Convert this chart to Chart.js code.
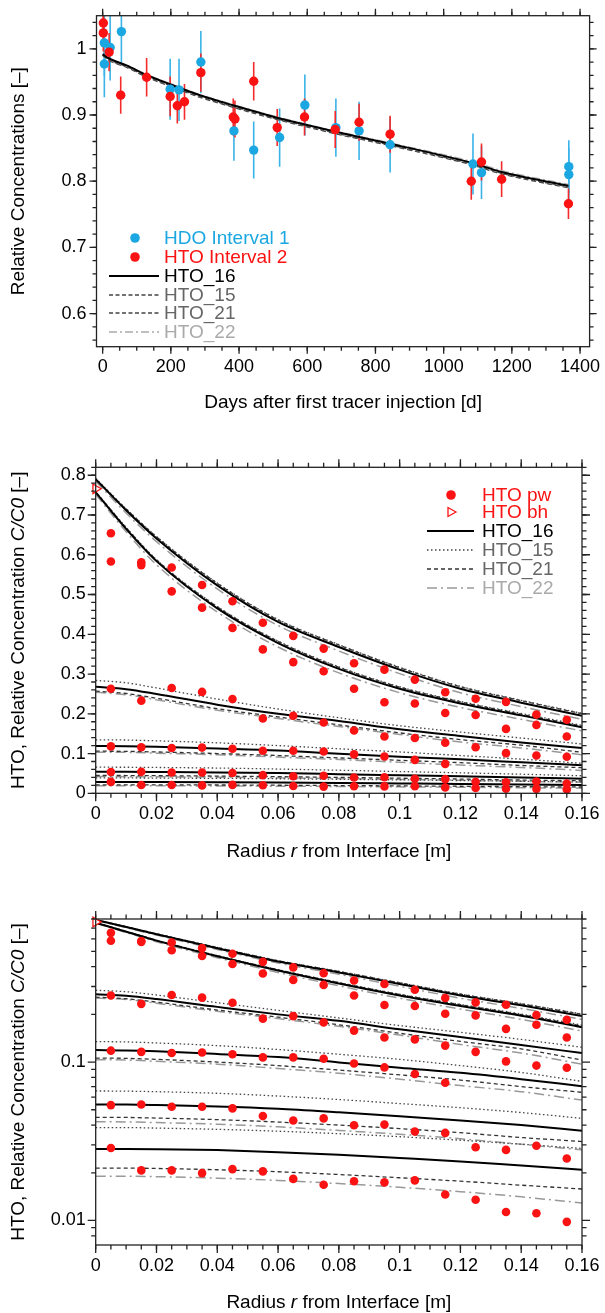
<!DOCTYPE html>
<html>
<head>
<meta charset="utf-8">
<script src="https://cdn.jsdelivr.net/npm/chart.js@4.4.1/dist/chart.umd.min.js"></script>
<style>
html, body { margin: 0; padding: 0; background: #fff; }
#wrap { position: relative; width: 605px; height: 1313px; overflow: hidden; }
canvas { position: absolute; left: 0; }
</style>
</head>
<body>
<div id="wrap">
<canvas id="zeit" width="605" height="420" style="top:0px"></canvas>
<canvas id="profilLin" width="605" height="450" style="top:420px"></canvas>
<canvas id="profilLog" width="605" height="443" style="top:870px"></canvas>
</div>
<script>
// ---------- Panel 1: relative concentrations over time ----------
const hdoDays   = [5, 5, 22, 55, 198, 224, 288, 385, 443, 519, 593, 684, 752, 843, 1086, 1111, 1367, 1367];
const hdoValues = [1.009, 0.977, 1.002, 1.026, 0.939, 0.938, 0.980, 0.876, 0.847, 0.866, 0.915, 0.881, 0.876, 0.855, 0.826, 0.813, 0.822, 0.810];
const hdoErrors = [0.050, 0.050, 0.050, 0.050, 0.046, 0.047, 0.047, 0.045, 0.043, 0.044, 0.046, 0.044, 0.044, 0.042, 0.046, 0.040, 0.040, 0.040];

const htoDays   = [2, 2, 19, 53, 129, 198, 219, 240, 288, 383, 388, 443, 512, 592, 682, 752, 843, 1081, 1111, 1170, 1366];
const htoValues = [1.039, 1.024, 0.995, 0.930, 0.957, 0.928, 0.914, 0.920, 0.964, 0.897, 0.894, 0.951, 0.881, 0.897, 0.878, 0.889, 0.871, 0.800, 0.829, 0.803, 0.766];
const htoErrors = [0.028, 0.028, 0.029, 0.028, 0.029, 0.030, 0.027, 0.027, 0.029, 0.028, 0.028, 0.029, 0.028, 0.028, 0.028, 0.028, 0.028, 0.028, 0.028, 0.027, 0.023];

const modelDays = [0, 20, 70, 130, 200, 290, 380, 490, 590, 680, 840, 1080, 1170, 1366];
const hto16Time = [0.992, 0.985, 0.975, 0.960, 0.946, 0.929, 0.915, 0.899, 0.886, 0.875, 0.857, 0.828, 0.814, 0.793];
const hto15Time = [0.991, 0.983, 0.973, 0.958, 0.944, 0.927, 0.913, 0.897, 0.884, 0.873, 0.855, 0.826, 0.812, 0.791];
const hto21Time = [0.990, 0.982, 0.972, 0.957, 0.943, 0.926, 0.912, 0.896, 0.883, 0.872, 0.854, 0.825, 0.811, 0.790];
const hto22Time = [0.991, 0.984, 0.975, 0.961, 0.947, 0.930, 0.916, 0.900, 0.887, 0.876, 0.858, 0.830, 0.816, 0.795];

const dayTicks = [0, 200, 400, 600, 800, 1000, 1200, 1400];
const relTicks = [0.6, 0.7, 0.8, 0.9, 1];

// ---------- Panels 2 and 3: radial profiles ----------
const radius = [0.005, 0.015, 0.025, 0.035, 0.045, 0.055, 0.065, 0.075, 0.085, 0.095, 0.105, 0.115, 0.125, 0.135, 0.145, 0.155];
const pw1 = [0.654, 0.581, 0.568, 0.524, 0.483, 0.429, 0.396, 0.364, 0.327, 0.311, 0.286, 0.254, 0.238, 0.230, 0.198, 0.185];
const pw2 = [0.583, 0.574, 0.508, 0.467, 0.416, 0.362, 0.330, 0.307, 0.263, 0.229, 0.226, 0.202, 0.197, 0.162, 0.172, 0.143];
const pw3 = [0.263, 0.233, 0.265, 0.255, 0.237, 0.188, 0.195, 0.178, 0.158, 0.143, 0.139, 0.127, 0.116, 0.101, 0.095, 0.092];
const pw4 = [0.118, 0.116, 0.114, 0.115, 0.112, 0.107, 0.107, 0.105, 0.098, 0.0925, 0.084, 0.074, null, null, null, null];
const pw5 = [0.0535, 0.054, 0.0522, 0.0522, 0.051, 0.0456, 0.0428, 0.0441, 0.0399, 0.0403, 0.0364, 0.0357, 0.029, 0.0279, 0.0296, 0.0246];
const pw6 = [0.0287, 0.0207, 0.0207, 0.0199, 0.0211, 0.0204, 0.0183, 0.0168, 0.0177, 0.0174, 0.0179, 0.0146, 0.0135, 0.0113, 0.0111, 0.0098];

const bhRadius = [0];
const bhValue = [0.766];

const modelRadius = [0, 0.01, 0.02, 0.04, 0.06, 0.08, 0.10, 0.12, 0.14, 0.16];
const hto16Profiles = [
  [0.790, 0.712, 0.641, 0.523, 0.431, 0.368, 0.311, 0.263, 0.228, 0.195],
  [0.757, 0.665, 0.584, 0.465, 0.378, 0.313, 0.263, 0.226, 0.196, 0.166],
  [0.268, 0.262, 0.250, 0.223, 0.200, 0.182, 0.161, 0.144, 0.128, 0.114],
  [0.119, 0.1185, 0.117, 0.1125, 0.1075, 0.0995, 0.092, 0.0855, 0.078, 0.0704],
  [0.0540, 0.0539, 0.0535, 0.0525, 0.0508, 0.0482, 0.0455, 0.0428, 0.0400, 0.0369],
  [0.0283, 0.0283, 0.0282, 0.0278, 0.0270, 0.0260, 0.0248, 0.0236, 0.0222, 0.0209]
];
const hto15Profiles = [
  [0.792, 0.716, 0.646, 0.529, 0.437, 0.374, 0.317, 0.269, 0.234, 0.201],
  [0.759, 0.669, 0.588, 0.470, 0.383, 0.318, 0.268, 0.231, 0.201, 0.171],
  [0.284, 0.278, 0.265, 0.237, 0.212, 0.190, 0.170, 0.154, 0.139, 0.124],
  [0.1346, 0.134, 0.132, 0.127, 0.120, 0.112, 0.104, 0.095, 0.086, 0.0755],
  [0.0657, 0.0655, 0.0650, 0.0635, 0.0610, 0.0580, 0.0547, 0.0515, 0.0480, 0.0441],
  [0.0386, 0.0386, 0.0383, 0.0376, 0.0366, 0.0353, 0.0338, 0.0321, 0.0303, 0.0285]
];
const hto21Profiles = [
  [0.790, 0.715, 0.645, 0.528, 0.436, 0.373, 0.316, 0.268, 0.233, 0.200],
  [0.758, 0.668, 0.587, 0.469, 0.382, 0.317, 0.267, 0.230, 0.199, 0.169],
  [0.257, 0.251, 0.239, 0.213, 0.192, 0.172, 0.152, 0.135, 0.121, 0.103],
  [0.106, 0.1055, 0.104, 0.100, 0.095, 0.089, 0.083, 0.077, 0.070, 0.0644],
  [0.0448, 0.0447, 0.0443, 0.0433, 0.0418, 0.0400, 0.0380, 0.0358, 0.0334, 0.0315],
  [0.0214, 0.0214, 0.0213, 0.0209, 0.0203, 0.0195, 0.0186, 0.0177, 0.0167, 0.0158]
];
const hto22Profiles = [
  [0.785, 0.705, 0.633, 0.514, 0.422, 0.358, 0.301, 0.253, 0.218, 0.186],
  [0.752, 0.658, 0.575, 0.456, 0.368, 0.303, 0.253, 0.216, 0.186, 0.157],
  [0.254, 0.248, 0.235, 0.209, 0.188, 0.168, 0.148, 0.129, 0.114, 0.097],
  [0.1035, 0.103, 0.101, 0.097, 0.091, 0.085, 0.078, 0.071, 0.065, 0.0575],
  [0.0420, 0.0419, 0.0415, 0.0405, 0.0390, 0.0370, 0.0350, 0.0328, 0.0303, 0.0279],
  [0.0190, 0.0190, 0.0189, 0.0185, 0.0179, 0.0171, 0.0162, 0.0152, 0.0141, 0.0129]
];

const radiusTicks = [0, 0.02, 0.04, 0.06, 0.08, 0.1, 0.12, 0.14, 0.16];
const linTicks = [0, 0.1, 0.2, 0.3, 0.4, 0.5, 0.6, 0.7, 0.8];
const logTicks = [0.01, 0.1];
const logMinor = [0.008, 0.009, 0.02, 0.03, 0.04, 0.05, 0.06, 0.07, 0.08, 0.09, 0.2, 0.3, 0.4, 0.5, 0.6, 0.7, 0.8];

// ---------- styling ----------
const FONT = '"Liberation Sans", Arial, Helvetica, sans-serif';
const BLUE = '#1ba7e1';
const RED = '#fb1212';
Chart.defaults.font.family = FONT;

function pts(xs, ys) {
  return xs.map((v, i) => ({x: v, y: ys[i]})).filter(p => p.y !== null);
}
function fmt(v) {
  return String(parseFloat(Number(v).toPrecision(6)));
}
function steps(a, b, s) {
  const out = [];
  for (let v = a; v <= b + s / 1000; v += s) out.push(+v.toFixed(6));
  return out;
}

function richText(ctx, parts, size, cx, cy, rot) {
  ctx.save();
  ctx.translate(cx, cy);
  if (rot) ctx.rotate(-Math.PI / 2);
  ctx.textBaseline = 'middle';
  ctx.textAlign = 'left';
  let w = 0;
  parts.forEach(p => { ctx.font = (p.i ? 'italic ' : '') + size + 'px ' + FONT; w += ctx.measureText(p.t).width; });
  let x = -w / 2;
  ctx.fillStyle = '#000';
  parts.forEach(p => {
    ctx.font = (p.i ? 'italic ' : '') + size + 'px ' + FONT;
    ctx.fillText(p.t, x, 0);
    x += ctx.measureText(p.t).width;
  });
  ctx.restore();
}

function decor(o) {
  return {
    id: 'decor',
    beforeDatasetsDraw(chart) {
      if (!o.errors) return;
      const {ctx, chartArea: a, scales: {x, y}} = chart;
      ctx.save();
      ctx.beginPath();
      ctx.rect(a.left, a.top, a.right - a.left, a.bottom - a.top);
      ctx.clip();
      o.errors.forEach(e => {
        ctx.strokeStyle = e.color;
        ctx.lineWidth = 1.6;
        e.xs.forEach((d, i) => {
          const px = x.getPixelForValue(d);
          ctx.beginPath();
          ctx.moveTo(px, y.getPixelForValue(e.ys[i] - e.err[i]));
          ctx.lineTo(px, y.getPixelForValue(e.ys[i] + e.err[i]));
          ctx.stroke();
        });
      });
      ctx.restore();
    },
    afterDraw(chart) {
      const {ctx, chartArea: a, scales: {x, y}} = chart;
      ctx.save();
      ctx.strokeStyle = '#222';
      ctx.lineWidth = 1.3;
      ctx.strokeRect(a.left, a.top, a.right - a.left, a.bottom - a.top);
      const xt = (vals, len) => vals.forEach(v => {
        const p = x.getPixelForValue(v);
        if (p < a.left - 0.5 || p > a.right + 0.5) return;
        ctx.beginPath();
        ctx.moveTo(p, a.bottom); ctx.lineTo(p, a.bottom + len);
        ctx.moveTo(p, a.top); ctx.lineTo(p, a.top - len);
        ctx.stroke();
      });
      const yt = (vals, len) => vals.forEach(v => {
        const p = y.getPixelForValue(v);
        if (p < a.top - 0.5 || p > a.bottom + 0.5) return;
        ctx.beginPath();
        ctx.moveTo(a.left, p); ctx.lineTo(a.left - len, p);
        ctx.moveTo(a.right, p); ctx.lineTo(a.right + len, p);
        ctx.stroke();
      });
      xt(o.xMinor, o.minorLen); xt(o.xTicks, o.majorLen);
      yt(o.yMinor, o.minorLen); yt(o.yTicks, o.majorLen);
      ctx.restore();

      richText(ctx, o.xTitle, 19, (a.left + a.right) / 2, o.xTitleY, false);
      richText(ctx, o.yTitle, 19, 19, (a.top + a.bottom) / 2, true);

      if (o.legend) {
        const L = o.legend;
        ctx.save();
        L.rows.forEach(r => {
          if (r.kind === 'dot') {
            ctx.fillStyle = r.color;
            ctx.beginPath(); ctx.arc(L.markerX, r.y, 4.8, 0, Math.PI * 2); ctx.fill();
          } else if (r.kind === 'tri') {
            ctx.strokeStyle = r.color; ctx.lineWidth = 1.3; ctx.setLineDash([]);
            ctx.beginPath();
            ctx.moveTo(L.markerX + 5, r.y);
            ctx.lineTo(L.markerX - 3, r.y - 4.5);
            ctx.lineTo(L.markerX - 3, r.y + 4.5);
            ctx.closePath(); ctx.stroke();
          } else {
            ctx.strokeStyle = r.color; ctx.lineWidth = r.width; ctx.setLineDash(r.dash);
            ctx.beginPath(); ctx.moveTo(L.x0, r.y); ctx.lineTo(L.x1, r.y); ctx.stroke();
          }
          ctx.setLineDash([]);
          ctx.fillStyle = r.textColor;
          ctx.font = '19px ' + FONT;
          ctx.textBaseline = 'middle';
          ctx.textAlign = 'left';
          ctx.fillText(r.text, L.textX, r.y + 1);
        });
        ctx.restore();
      }
    }
  };
}

function makeChart(id, o) {
  const canvas = document.getElementById(id);
  const H = canvas.height;
  const tickFont = {family: FONT, size: 18};
  return new Chart(canvas, {
    type: 'scatter',
    data: {datasets: o.datasets},
    options: {
      responsive: false,
      animation: false,
      events: [],
      layout: {padding: {top: o.area.top, right: canvas.width - o.area.right, left: 0, bottom: 0}},
      plugins: {legend: {display: false}, tooltip: {enabled: false}},
      scales: {
        x: {
          type: 'linear', position: 'bottom', bounds: 'data', min: o.xMin, max: o.xMax,
          grid: {display: false, drawTicks: false}, border: {display: false},
          ticks: {font: tickFont, color: '#000', padding: 10, maxRotation: 0, autoSkip: false, callback: fmt},
          afterBuildTicks: s => { s.ticks = o.xTicks.map(v => ({value: v})); },
          afterFit: s => { s.height = H - o.area.bottom; s.paddingLeft = 0; s.paddingRight = 0; }
        },
        y: {
          type: o.yType, position: 'left', bounds: 'data', min: o.yMin, max: o.yMax,
          grid: {display: false, drawTicks: false}, border: {display: false},
          ticks: {font: tickFont, color: '#000', padding: 10, autoSkip: false, callback: fmt},
          afterBuildTicks: s => { s.ticks = o.yTicks.map(v => ({value: v})); },
          afterFit: s => { s.width = o.area.left; s.paddingTop = 0; s.paddingBottom = 0; }
        }
      }
    },
    plugins: [decor(o)]
  });
}

// ---------- Panel 1 ----------
function lineSet(label, xs, ys, color, width, dash) {
  return {label, data: pts(xs, ys), showLine: true, pointRadius: 0, borderColor: color,
          borderWidth: width, borderDash: dash, cubicInterpolationMode: 'monotone', fill: false};
}
function dotSet(label, xs, ys, color, r) {
  return {label, data: pts(xs, ys), showLine: false, pointRadius: r,
          pointBackgroundColor: color, pointBorderColor: color, pointBorderWidth: 0};
}

makeChart('zeit', {
  area: {left: 96.5, right: 589.6, top: 15.7, bottom: 346.7},
  xMin: -18, xMax: 1428, yType: 'linear', yMin: 0.55, yMax: 1.05,
  xTicks: dayTicks, xMinor: steps(0, 1400, 50),
  yTicks: relTicks, yMinor: steps(0.56, 1.04, 0.02),
  majorLen: 7, minorLen: 4,
  xTitle: [{t: 'Days after first tracer injection [d]'}], xTitleY: 403,
  yTitle: [{t: 'Relative Concentrations [–]'}],
  errors: [
    {xs: hdoDays, ys: hdoValues, err: hdoErrors, color: '#39b3e8'},
    {xs: htoDays, ys: htoValues, err: htoErrors, color: '#f52a2a'}
  ],
  legend: {
    x0: 109, x1: 159, markerX: 135, textX: 164,
    rows: [
      {kind: 'dot', y: 238, color: BLUE, text: 'HDO Interval 1', textColor: BLUE},
      {kind: 'dot', y: 257, color: RED, text: 'HTO Interval 2', textColor: RED},
      {kind: 'line', y: 276, color: '#000', width: 2, dash: [], text: 'HTO_16', textColor: '#000'},
      {kind: 'line', y: 295, color: '#444', width: 1.3, dash: [4, 2.5], text: 'HTO_15', textColor: '#666'},
      {kind: 'line', y: 313, color: '#444', width: 1.3, dash: [4, 2.5], text: 'HTO_21', textColor: '#666'},
      {kind: 'line', y: 332, color: '#aaa', width: 1.5, dash: [8, 3, 2, 3], text: 'HTO_22', textColor: '#aaa'}
    ]
  },
  datasets: [
    dotSet('HTO Interval 2', htoDays, htoValues, RED, 4.7),
    dotSet('HDO Interval 1', hdoDays, hdoValues, BLUE, 4.7),
    lineSet('HTO_16', modelDays, hto16Time, '#000', 2, []),
    lineSet('HTO_15', modelDays, hto15Time, '#555', 1.3, [4, 3]),
    lineSet('HTO_21', modelDays, hto21Time, '#444', 1.3, [5, 3]),
    lineSet('HTO_22', modelDays, hto22Time, '#aaa', 1.5, [8, 3, 2, 3])
  ]
});

// ---------- Panels 2 and 3 ----------
const profilePw = [pw1, pw2, pw3, pw4, pw5, pw6];
const modelStyles = [
  {name: 'HTO_16', sets: hto16Profiles, color: '#000', width: 2, dash: []},
  {name: 'HTO_15', sets: hto15Profiles, color: '#444', width: 1.3, dash: [1.5, 2.5]},
  {name: 'HTO_21', sets: hto21Profiles, color: '#333', width: 1.3, dash: [4, 3]},
  {name: 'HTO_22', sets: hto22Profiles, color: '#999', width: 1.5, dash: [10, 4, 2, 4]}
];

function profileDatasets() {
  const ds = [];
  ds.push({label: 'HTO bh', data: pts(bhRadius, bhValue), showLine: false, pointStyle: 'triangle',
           rotation: 90, pointRadius: 5.5, pointBackgroundColor: '#fff', pointBorderColor: RED,
           pointBorderWidth: 1.3, clip: false});
  profilePw.forEach(p => ds.push(dotSet('HTO pw', radius, p, RED, 4.3)));
  modelStyles.forEach(m => m.sets.forEach(s => ds.push(lineSet(m.name, modelRadius, s, m.color, m.width, m.dash))));
  return ds;
}

const radiusTitle = [{t: 'Radius '}, {t: 'r', i: true}, {t: ' from Interface [m]'}];
const concTitle = [{t: 'HTO, Relative Concentration '}, {t: 'C/C0', i: true}, {t: ' [–]'}];

makeChart('profilLin', {
  area: {left: 95.7, right: 582, top: 47.3, bottom: 373.3},
  xMin: 0, xMax: 0.16, yType: 'linear', yMin: 0, yMax: 0.82,
  xTicks: radiusTicks, xMinor: steps(0, 0.16, 0.005),
  yTicks: linTicks, yMinor: steps(0, 0.82, 0.02),
  majorLen: 8, minorLen: 4.5,
  xTitle: radiusTitle, xTitleY: 432,
  yTitle: concTitle,
  legend: {
    x0: 427, x1: 474, markerX: 451, textX: 482,
    rows: [
      {kind: 'dot', y: 75, color: RED, text: 'HTO pw', textColor: RED},
      {kind: 'tri', y: 92, color: RED, text: 'HTO bh', textColor: RED},
      {kind: 'line', y: 111, color: '#000', width: 2, dash: [], text: 'HTO_16', textColor: '#000'},
      {kind: 'line', y: 130, color: '#444', width: 1.3, dash: [1.5, 2.5], text: 'HTO_15', textColor: '#666'},
      {kind: 'line', y: 149, color: '#333', width: 1.3, dash: [4, 3], text: 'HTO_21', textColor: '#666'},
      {kind: 'line', y: 168, color: '#999', width: 1.5, dash: [10, 4, 2, 4], text: 'HTO_22', textColor: '#aaa'}
    ]
  },
  datasets: profileDatasets()
});

makeChart('profilLog', {
  area: {left: 95.7, right: 582, top: 49, bottom: 375},
  xMin: 0, xMax: 0.16, yType: 'logarithmic', yMin: 0.007, yMax: 0.8,
  xTicks: radiusTicks, xMinor: steps(0, 0.16, 0.005),
  yTicks: logTicks, yMinor: logMinor,
  majorLen: 8, minorLen: 4.5,
  xTitle: radiusTitle, xTitleY: 433,
  yTitle: concTitle,
  datasets: profileDatasets()
});
</script>
</body>
</html>
